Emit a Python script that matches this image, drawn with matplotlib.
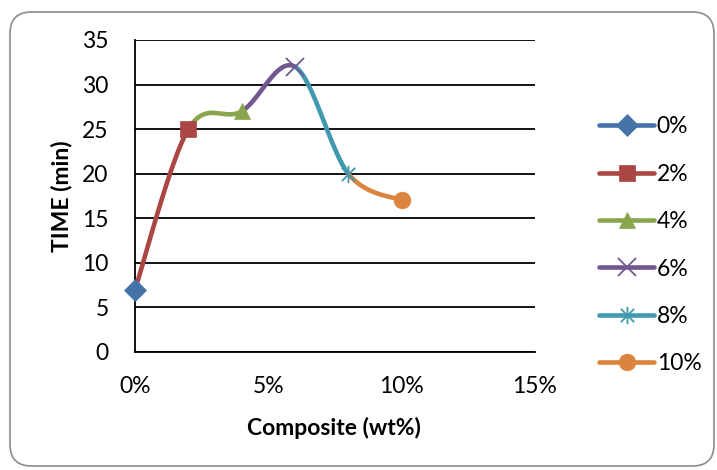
import numpy as np
import matplotlib
matplotlib.use("Agg")
import matplotlib.pyplot as plt
from matplotlib.path import Path
from matplotlib.patches import FancyBboxPatch

plt.rcParams['font.family'] = ['Lato', 'DejaVu Sans']

# data
composite = [0, 2, 4, 6, 8, 10]          # wt%
time_min = [7, 25, 27, 32, 20, 17]
labels = ["0%", "2%", "4%", "6%", "8%", "10%"]
colors = ["#4572A7", "#AA4643", "#89A54E", "#71588F", "#4198AF", "#DB843D"]
x_ticks = [0, 5, 10, 15]
x_tick_labels = ["0%", "5%", "10%", "15%"]
y_ticks = [0, 5, 10, 15, 20, 25, 30, 35]

# asterisk marker (x plus vertical bar)
star_path = Path(
    [(-1, -1), (1, 1), (-1, 1), (1, -1), (0, -1.3), (0, 1.3)],
    [Path.MOVETO, Path.LINETO, Path.MOVETO, Path.LINETO, Path.MOVETO, Path.LINETO])
markers = ["D", "s", "^", "x", star_path, "o"]
msizes = [11, 12, 12, 13, 12.5, 12]
FS = 16.5


def excel_smooth(xs, ys, n=60):
    # bezier segments with excel-like control points (catmull-rom style)
    pts = np.column_stack([xs, ys]).astype(float)
    m = len(pts)
    segs = []
    for i in range(m - 1):
        p_prev = pts[max(i - 1, 0)]
        p0 = pts[i]
        p1 = pts[i + 1]
        p_next = pts[min(i + 2, m - 1)]
        c1 = p0 + (p1 - p_prev) / 6.0
        c2 = p1 - (p_next - p0) / 6.0
        t = np.linspace(0, 1, n)[:, None]
        b = ((1 - t) ** 3) * p0 + 3 * ((1 - t) ** 2) * t * c1 + 3 * (1 - t) * t ** 2 * c2 + t ** 3 * p1
        segs.append(b)
    return segs


fig = plt.figure(figsize=(7.17, 4.70), dpi=100)
ax = fig.add_axes([135 / 717, 1 - 352 / 470, (535 - 135) / 717, (352 - 40) / 470])

segs = excel_smooth(composite, time_min)

for k in range(len(composite)):
    if k > 0:
        seg = segs[k - 1]
        ax.plot(seg[:, 0], seg[:, 1], color=colors[k], lw=3.3, solid_capstyle='round',
                zorder=3, clip_on=False)
    mec = colors[k]
    mew = 1.3 if k in (3, 4) else 0.5
    ax.plot([composite[k]], [time_min[k]], linestyle='none', marker=markers[k],
            markersize=msizes[k], color=colors[k], mec=mec, mew=mew, zorder=4, clip_on=False)
    # legend proxy
    ax.plot([], [], color=colors[k], lw=3.3, marker=markers[k], markersize=msizes[k],
            mec=mec, mew=mew, label=labels[k], solid_capstyle='round')

ax.set_xlim(0, 15)
ax.set_ylim(0, 35)
ax.set_xticks(x_ticks)
ax.set_xticklabels(x_tick_labels)
ax.set_yticks(y_ticks)
ax.grid(axis='y', color='black', lw=1.3)
ax.set_axisbelow(True)
for side in ['top', 'right']:
    ax.spines[side].set_visible(False)
ax.spines['left'].set_linewidth(1.3)
ax.spines['bottom'].set_linewidth(1.3)
ax.tick_params(axis='both', length=0, labelsize=FS)
ax.tick_params(axis='x', pad=17)
ax.tick_params(axis='y', pad=19)

fig.text(334 / 717, 1 - 428 / 470, "Composite (wt%)", ha='center', va='center',
         fontsize=FS, fontweight='bold')
fig.text(62 / 717, 1 - 196 / 470, "TIME (min)", ha='center', va='center',
         rotation=90, fontsize=FS, fontweight='bold')

leg = ax.legend(loc='upper left', bbox_to_anchor=(588 / 717, 1 - 105 / 470),
                bbox_transform=fig.transFigure, frameon=False, fontsize=FS,
                handlelength=2.4, handletextpad=0.1, labelspacing=1.15, borderpad=0)

border = FancyBboxPatch((10 / 717, 4 / 470), 704 / 717, 454 / 470,
                        boxstyle="round,pad=0,rounding_size=0.03",
                        transform=fig.transFigure, fill=False, ec='#8c8c8c', lw=1.2,
                        mutation_aspect=717 / 470)
fig.patches.append(border)

fig.savefig("out.png", dpi=100)
